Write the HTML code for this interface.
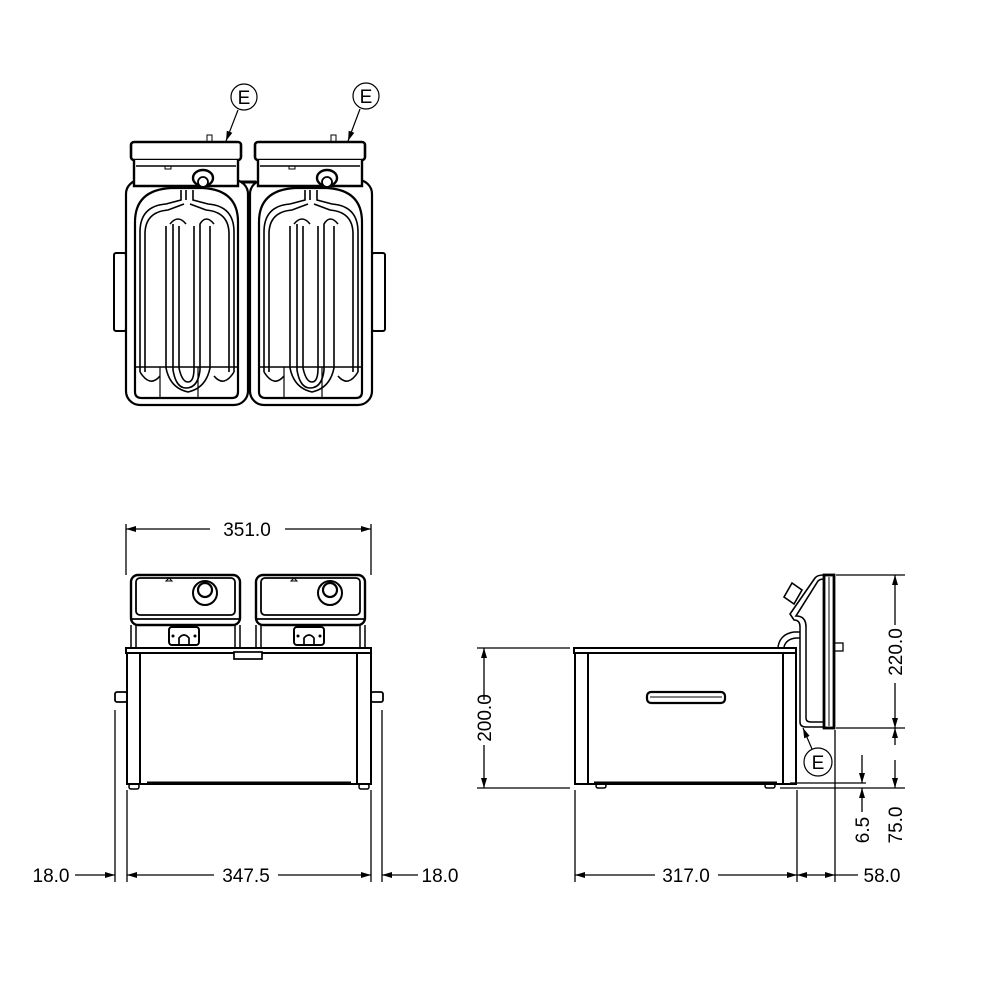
<!DOCTYPE html>
<html><head><meta charset="utf-8"><style>
html,body{margin:0;padding:0;background:#fff}
svg{display:block}
text{font-family:"Liberation Sans",sans-serif;font-size:19px;fill:#000}
</style></head><body>
<svg width="1000" height="1000" viewBox="0 0 1000 1000" xmlns="http://www.w3.org/2000/svg">
<defs>
<marker id="a" viewBox="0 0 10 6" refX="10" refY="3" markerWidth="10" markerHeight="6" markerUnits="userSpaceOnUse" orient="auto-start-reverse"><path d="M0,0L10,3L0,6z" fill="#000"/></marker>
<g id="unit">
  <rect x="0" y="38" width="122" height="225" rx="14" fill="none" stroke="#000" stroke-width="2.2"/>
  <rect x="5" y="0" width="110" height="18" rx="3" fill="#fff" stroke="#000" stroke-width="2.6"/>
  <path d="M8,18 V44 H112 V18" fill="#fff" stroke="#000" stroke-width="2.4"/>
  <line x1="10" y1="24" x2="110" y2="24" stroke="#000" stroke-width="1.4"/>
  <rect x="39" y="24" width="6" height="3" fill="none" stroke="#000" stroke-width="1"/>
  <ellipse cx="77" cy="36" rx="10" ry="8" fill="#fff" stroke="#000" stroke-width="2.4"/>
  <circle cx="77" cy="40" r="5" fill="#fff" stroke="#000" stroke-width="1.8"/>
  <rect x="81" y="-7" width="5" height="7" fill="none" stroke="#000" stroke-width="1"/>
  <path d="M9,80 Q9,48 45,46 H77 Q112,48 112,80 V250 Q112,256 106,256 H16 Q9,256 9,250 Z" fill="none" stroke="#000" stroke-width="2.2"/>
  <line x1="9" y1="225" x2="112" y2="225" stroke="#000" stroke-width="1.5"/>
  <line x1="34" y1="225" x2="34" y2="256" stroke="#000" stroke-width="1.2"/>
  <line x1="72" y1="225" x2="72" y2="256" stroke="#000" stroke-width="1.2"/>
  <g fill="none" stroke="#000" stroke-width="1.6">
    <path d="M14,230 V90 Q14,64 40,62 L55,58 V48"/>
    <path d="M19,230 V92 Q19,70 42,68 L58,62"/>
    <path d="M108,230 V90 Q108,64 82,62 L67,58 V48"/>
    <path d="M103,230 V92 Q103,70 80,68 L64,62"/>
    <path d="M44,82 Q52,72 60,82 M47,82 V228 Q50,246 60,246 Q72,246 74,228 V82 Q80,72 88,82 M53,84 V226 Q56,240 62,240 Q68,240 68,226 V84"/>
    <path d="M40,84 V226 Q44,246 62,250 Q80,246 84,226 V84"/>
    <path d="M14,230 Q24,246 34,234 M108,230 Q98,246 88,234"/>
    <path d="M60,48 V58"/>
  </g>
</g>
<g id="front">
  <rect x="0" y="0" width="109" height="50" rx="7" fill="#fff" stroke="#000" stroke-width="2.4"/>
  <rect x="5" y="3" width="99" height="37" rx="4" fill="none" stroke="#000" stroke-width="1.8"/>
  <line x1="0" y1="44" x2="109" y2="44" stroke="#000" stroke-width="1.8"/>
  <path d="M0,50 V73 M5,50 V73 M104,50 V73 M109,50 V73" stroke="#000" stroke-width="1.5"/>
  <path d="M35,6 l3,-3 3,3 z" fill="none" stroke="#000" stroke-width="1"/>
  <circle cx="74" cy="18" r="12" fill="none" stroke="#000" stroke-width="2"/>
  <circle cx="74" cy="15" r="7" fill="none" stroke="#000" stroke-width="2.2"/>
  <rect x="38" y="52" width="30" height="18" rx="3" fill="none" stroke="#000" stroke-width="2"/>
  <path d="M48,70 V63 Q53,57 58,63 V70" fill="none" stroke="#000" stroke-width="1.7"/>
  <circle cx="42" cy="61" r="1.5"/><circle cx="64" cy="61" r="1.5"/>
</g>
</defs>

<rect x="114" y="253" width="12" height="78" rx="2" fill="none" stroke="#000" stroke-width="2"/>
<rect x="372" y="253" width="13" height="78" rx="2" fill="none" stroke="#000" stroke-width="2"/>
<use href="#unit" x="126" y="142"/>
<use href="#unit" x="250" y="142"/>
<line x1="241" y1="182" x2="256" y2="182" stroke="#000" stroke-width="3"/>
<circle cx="244" cy="97" r="13" fill="none" stroke="#000" stroke-width="1.2"/>
<text x="244" y="104" text-anchor="middle">E</text>
<line x1="238" y1="110" x2="226" y2="141" stroke="#000" stroke-width="1.2" marker-end="url(#a)"/>
<circle cx="366" cy="96" r="13" fill="none" stroke="#000" stroke-width="1.2"/>
<text x="366" y="103" text-anchor="middle">E</text>
<line x1="360" y1="109" x2="348" y2="141" stroke="#000" stroke-width="1.2" marker-end="url(#a)"/>

<use href="#front" x="131" y="575"/>
<use href="#front" x="256" y="575"/>
<rect x="126" y="648" width="245" height="5" fill="#fff" stroke="#000" stroke-width="2"/>
<rect x="234" y="652" width="28" height="7" fill="#fff" stroke="#000" stroke-width="1.7"/>
<path d="M127,653 V784 H371 V653 M140,653 V784 M357,653 V784" fill="none" stroke="#000" stroke-width="2"/>
<line x1="147" y1="783" x2="351" y2="783" stroke="#000" stroke-width="3"/>
<rect x="129" y="784" width="10" height="5" rx="2" fill="none" stroke="#000" stroke-width="1.5"/>
<rect x="359" y="784" width="10" height="5" rx="2" fill="none" stroke="#000" stroke-width="1.5"/>
<rect x="115" y="692" width="12" height="10" rx="2" fill="none" stroke="#000" stroke-width="1.8"/>
<rect x="371" y="692" width="12" height="10" rx="2" fill="none" stroke="#000" stroke-width="1.8"/>
<g stroke="#000" stroke-width="1.3" fill="none">
<path d="M126,524 V575 M371,524 V575"/>
<path d="M115,710 V882 M127,790 V882 M371,790 V882 M382,710 V882"/>
<line x1="126" y1="529" x2="210" y2="529" marker-start="url(#a)"/>
<line x1="285" y1="529" x2="371" y2="529" marker-end="url(#a)"/>
<line x1="127" y1="875" x2="214" y2="875" marker-start="url(#a)"/>
<line x1="278" y1="875" x2="371" y2="875" marker-end="url(#a)"/>
<line x1="75" y1="875" x2="115" y2="875" marker-end="url(#a)"/>
<line x1="418" y1="875" x2="382" y2="875" marker-end="url(#a)"/>
</g>
<text x="247" y="536" text-anchor="middle">351.0</text>
<text x="246" y="882" text-anchor="middle">347.5</text>
<text x="51" y="882" text-anchor="middle">18.0</text>
<text x="440" y="882" text-anchor="middle">18.0</text>

<rect x="574" y="648" width="222" height="5" fill="#fff" stroke="#000" stroke-width="2"/>
<path d="M575,653 V784 H796 V653 M588,653 V784 M783,653 V784" fill="none" stroke="#000" stroke-width="2"/>
<line x1="594" y1="783" x2="777" y2="783" stroke="#000" stroke-width="3"/>
<rect x="596" y="784" width="10" height="4" rx="2" fill="none" stroke="#000" stroke-width="1.5"/>
<rect x="765" y="784" width="10" height="4" rx="2" fill="none" stroke="#000" stroke-width="1.5"/>
<rect x="647" y="692" width="78" height="11" rx="4" fill="none" stroke="#000" stroke-width="2.2"/>
<line x1="650" y1="697" x2="722" y2="697" stroke="#000" stroke-width="1"/>
<rect x="824" y="575" width="10" height="153" fill="none" stroke="#000" stroke-width="2.8"/>
<line x1="829" y1="577" x2="829" y2="726" stroke="#000" stroke-width="1"/>
<rect x="834" y="643" width="9" height="8" fill="none" stroke="#000" stroke-width="1.3"/>
<path d="M800,627 V722 Q800,727 806,727 H824 M806,627 V718 Q806,722 811,722 H824" fill="none" stroke="#000" stroke-width="1.5"/>
<path d="M800,627 Q800,620 794,620 L790,614 L815,578 Q817,575 824,575 M806,627 Q806,616 796,616 L818,581 Q820,579 824,579" fill="none" stroke="#000" stroke-width="1.6"/>
<path d="M784,597 L792,583 L802,590 L794,604 Z" fill="none" stroke="#000" stroke-width="1.6"/>
<path d="M778,647 Q780,634 794,632 H800 M784,647 Q786,639 796,638 H800" fill="none" stroke="#000" stroke-width="1.5"/>
<circle cx="818" cy="762" r="14" fill="none" stroke="#000" stroke-width="1.2"/>
<text x="818" y="769" text-anchor="middle">E</text>
<line x1="812" y1="749" x2="803" y2="728" stroke="#000" stroke-width="1.2" marker-end="url(#a)"/>
<g stroke="#000" stroke-width="1.3" fill="none">
<path d="M477,648 H570 M477,788 H570"/>
<line x1="484" y1="700" x2="484" y2="648" marker-end="url(#a)"/>
<line x1="484" y1="745" x2="484" y2="788" marker-end="url(#a)"/>
<path d="M836,575 H905 M836,728 H905 M780,788 H905 M790,783 H866"/>
<line x1="895" y1="625" x2="895" y2="575" marker-end="url(#a)"/>
<line x1="895" y1="683" x2="895" y2="728" marker-end="url(#a)"/>
<line x1="895" y1="745" x2="895" y2="728" marker-end="url(#a)"/>
<line x1="895" y1="760" x2="895" y2="788" marker-end="url(#a)"/>
<line x1="862" y1="755" x2="862" y2="783" marker-end="url(#a)"/>
<line x1="862" y1="812" x2="862" y2="788" marker-end="url(#a)"/>
<path d="M575,790 V882 M797,790 V882 M835,730 V882"/>
<line x1="575" y1="875" x2="655" y2="875" marker-start="url(#a)"/>
<line x1="718" y1="875" x2="797" y2="875" marker-end="url(#a)"/>
<line x1="797" y1="875" x2="835" y2="875" marker-start="url(#a)" marker-end="url(#a)"/>
<line x1="835" y1="875" x2="858" y2="875"/>
</g>
<text transform="translate(491,718) rotate(-90)" text-anchor="middle">200.0</text>
<text transform="translate(902,652) rotate(-90)" text-anchor="middle">220.0</text>
<text transform="translate(902,825) rotate(-90)" text-anchor="middle">75.0</text>
<text transform="translate(869,830) rotate(-90)" text-anchor="middle">6.5</text>
<text x="686" y="882" text-anchor="middle">317.0</text>
<text x="882" y="882" text-anchor="middle">58.0</text>
</svg>
</body></html>
